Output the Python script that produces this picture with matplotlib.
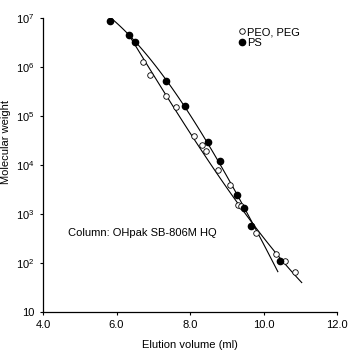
import matplotlib
matplotlib.use("Agg")
import matplotlib.pyplot as plt
import numpy as np

plt.rcParams['font.family'] = ['Liberation Sans', 'DejaVu Sans']
plt.rcParams['mathtext.default'] = 'regular'

# PEO, PEG standards (open circles)
peo_vol = [6.71, 6.91, 7.34, 7.61, 8.10, 8.32, 8.43, 8.76, 9.08, 9.30, 9.38, 9.79, 10.33, 10.58, 10.86]
peo_mw = [1.26e6, 6.9e5, 2.6e5, 1.5e5, 4.0e4, 2.6e4, 1.9e4, 8.0e3, 3.9e3, 1.5e3, 1.45e3, 4.1e2, 1.5e2, 1.1e2, 66]

# PS standards (filled circles)
ps_vol = [5.82, 6.34, 6.50, 7.34, 7.86, 8.48, 8.81, 9.27, 9.46, 9.65, 10.44]
ps_mw = [8.7e6, 4.5e6, 3.2e6, 5.1e5, 1.6e5, 2.9e4, 1.2e4, 2.4e3, 1.3e3, 5.7e2, 1.1e2]

# calibration curves
curve_ps_vol = [5.60, 6.34, 7.34, 7.83, 8.51, 8.81, 9.22, 9.68, 10.39]
curve_ps_mw = [1.45e7, 4.3e6, 5.4e5, 1.6e5, 2.95e4, 1.2e4, 2.7e3, 6.0e2, 72]
curve_peo_vol = [6.31, 6.80, 7.26, 8.10, 9.08, 10.00, 11.04]
curve_peo_mw = [4.9e6, 1.3e6, 3.0e5, 3.6e4, 3.1e3, 3.0e2, 41]

xticks = [4.0, 6.0, 8.0, 10.0, 12.0]
yticks = [10, 1e2, 1e3, 1e4, 1e5, 1e6, 1e7]
ylabels = ['10', '$10^2$', '$10^3$', '$10^4$', '$10^5$', '$10^6$', '$10^7$']


def smooth(vol, mw, deg=3):
    # cubic fit of log(M) against volume, like a GPC calibration curve
    c = np.polyfit(vol, np.log10(mw), deg)
    v = np.linspace(vol[0], vol[-1], 100)
    return v, 10 ** np.polyval(c, v)


fig = plt.figure(figsize=(3.54, 3.53), dpi=100)
ax = fig.add_axes([0.1215, 0.116, 0.8305, 0.833])

ax.plot(*smooth(curve_ps_vol, curve_ps_mw), color='black', lw=0.8)
ax.plot(*smooth(curve_peo_vol, curve_peo_mw), color='black', lw=0.8)
ax.plot(peo_vol, peo_mw, 'o', mfc='white', mec='black', mew=0.6, ms=4, label='PEO, PEG')
ax.plot(ps_vol, ps_mw, 'o', color='black', ms=4.5, label='PS')

ax.set_yscale('log')
ax.set_xlim(4.0, 12.0)
ax.set_ylim(10, 1e7)
ax.set_xticks(xticks)
ax.set_xticklabels(['%.1f' % v for v in xticks])
ax.set_yticks(yticks)
ax.set_yticklabels(ylabels)
ax.minorticks_off()
ax.tick_params(labelsize=8, length=2.5, width=0.8, direction='out')

for s in ['top', 'right']:
    ax.spines[s].set_visible(False)
for s in ['left', 'bottom']:
    ax.spines[s].set_linewidth(0.9)

ax.set_xlabel('Elution volume (ml)', fontsize=8, labelpad=7)
ax.set_ylabel('Molecular weight', fontsize=8)
ax.yaxis.set_label_coords(-0.108, 0.58)

ax.text(4.68, 10**2.61, 'Column: OHpak SB-806M HQ', fontsize=8, va='center')

ax.legend(loc='upper left', bbox_to_anchor=(0.63, 0.995), frameon=False, fontsize=8,
          handletextpad=0.0, handlelength=1.0, labelspacing=0.1, borderpad=0.2)

fig.savefig('out.png', dpi=100)
